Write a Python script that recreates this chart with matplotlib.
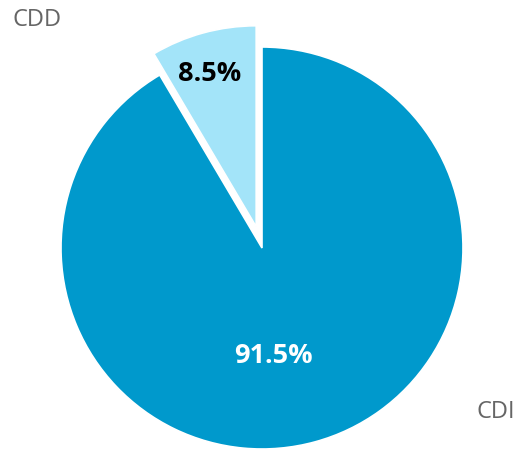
import matplotlib
matplotlib.use('Agg')
import matplotlib.pyplot as plt

# data
labels = ["CDD", "CDI"]
shares = [8.5, 91.5]
colors = ["#A3E4F9", "#0099CC"]
pct_colors = ["black", "white"]

plt.rcParams['font.family'] = ['Open Sans', 'DejaVu Sans']

fig = plt.figure(figsize=(5.19, 4.5), dpi=100)
ax = fig.add_axes([0, 0, 1, 1])

# pie in pixel-like coords (y up); explode is in data units here
cx, cy, r = 262, 202, 201
wedges, _ = ax.pie(shares, colors=colors, startangle=90, counterclock=True,
                   explode=[22, 0], center=(cx, cy), radius=r,
                   wedgeprops=dict(edgecolor='white', linewidth=1.2))

ax.set_xlim(0, 519)
ax.set_ylim(0, 450)
ax.set_aspect('equal')
ax.axis('off')

# percentage labels
ax.text(210, 450 - 74, f"{shares[0]}%", ha='center', va='center',
        fontsize=19.5, fontweight='bold', color=pct_colors[0])
ax.text(273, 450 - 356, f"{shares[1]}%", ha='center', va='center',
        fontsize=19.5, fontweight='bold', color=pct_colors[1])

# category labels
ax.text(37, 450 - 20, labels[0], ha='center', va='center', fontsize=17, color='#666666')
ax.text(496, 450 - 412, labels[1], ha='center', va='center', fontsize=17, color='#666666')

fig.savefig('out.png', dpi=100, facecolor='white')
